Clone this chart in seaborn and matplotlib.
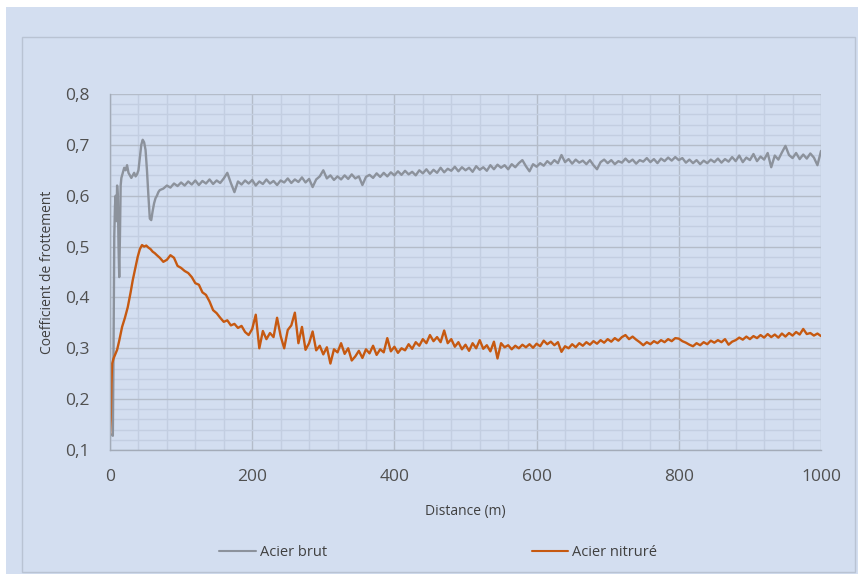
import pandas as pd
import matplotlib
matplotlib.use('Agg')
import matplotlib.pyplot as plt
from matplotlib.patches import Rectangle
from matplotlib.ticker import MultipleLocator, FuncFormatter
import seaborn as sns

# ---- data ----
# Acier brut (grey): early part with fine steps, then every 5 m
brut_dist = [0, 2, 4, 5, 6, 7, 8, 9, 10, 11, 12, 13, 14, 15, 16, 17, 18, 20, 22, 24, 26, 28, 30,
             32, 34, 36, 38, 40, 42, 44, 46, 48, 50, 52, 54, 56, 58, 60, 62, 64, 66, 68, 70] + list(range(75, 1001, 5))
brut_coef = [0.13, 0.13, 0.128, 0.30, 0.52, 0.58, 0.60, 0.55, 0.62, 0.60, 0.50, 0.44, 0.52, 0.62, 0.635,
             0.64, 0.645, 0.655, 0.65, 0.66, 0.645, 0.64, 0.635, 0.64, 0.645, 0.638, 0.642, 0.65, 0.675,
             0.70, 0.71, 0.705, 0.69, 0.65, 0.60, 0.555, 0.552, 0.57, 0.585, 0.595, 0.60, 0.607, 0.611,
             # 75 .. 200
             0.614, 0.62, 0.616, 0.624, 0.619, 0.626, 0.62, 0.628, 0.622, 0.63, 0.621, 0.629, 0.624,
             0.632, 0.623, 0.63, 0.625, 0.634, 0.645, 0.625, 0.607, 0.628, 0.622, 0.63, 0.624, 0.631,
             # 205 .. 330
             0.62, 0.628, 0.623, 0.632, 0.624, 0.629, 0.621, 0.63, 0.626, 0.634, 0.625, 0.632, 0.627,
             0.636, 0.626, 0.633, 0.617, 0.632, 0.638, 0.65, 0.634, 0.64, 0.631, 0.638, 0.632, 0.64,
             # 335 .. 460
             0.633, 0.642, 0.634, 0.638, 0.621, 0.637, 0.641, 0.635, 0.644, 0.637, 0.645, 0.638, 0.646,
             0.64, 0.648, 0.641, 0.649, 0.642, 0.647, 0.64, 0.65, 0.644, 0.652, 0.643, 0.651, 0.645,
             # 465 .. 590
             0.655, 0.646, 0.653, 0.649, 0.657, 0.648, 0.656, 0.65, 0.655, 0.647, 0.658, 0.651, 0.656,
             0.649, 0.66, 0.652, 0.661, 0.655, 0.66, 0.652, 0.662, 0.656, 0.664, 0.67, 0.658, 0.648,
             # 595 .. 720
             0.662, 0.657, 0.664, 0.659, 0.668, 0.662, 0.67, 0.664, 0.68, 0.666, 0.672, 0.663, 0.671,
             0.665, 0.669, 0.662, 0.67, 0.66, 0.652, 0.666, 0.671, 0.664, 0.67, 0.662, 0.668, 0.665,
             # 725 .. 850
             0.673, 0.666, 0.671, 0.663, 0.67, 0.667, 0.674, 0.666, 0.672, 0.664, 0.673, 0.668, 0.675,
             0.669, 0.676, 0.67, 0.674, 0.665, 0.671, 0.664, 0.67, 0.662, 0.669, 0.664, 0.671, 0.666,
             # 855 .. 980
             0.673, 0.665, 0.672, 0.667, 0.676, 0.668, 0.679, 0.666, 0.675, 0.67, 0.682, 0.668, 0.677,
             0.671, 0.684, 0.656, 0.679, 0.671, 0.685, 0.698, 0.68, 0.674, 0.684, 0.672, 0.681, 0.673,
             # 985 .. 1000
             0.683, 0.675, 0.66, 0.688]

# Acier nitrure (orange)
nitr_dist = [0, 1, 2, 3, 5, 8, 10, 13, 17, 21, 25, 29, 32, 36, 39, 42, 45, 48, 51, 54, 57, 60, 63, 66, 70] + list(range(75, 1001, 5))
nitr_coef = [0.13, 0.16, 0.23, 0.27, 0.28, 0.29, 0.297, 0.315, 0.342, 0.36, 0.381, 0.41, 0.434, 0.46,
             0.48, 0.495, 0.503, 0.50, 0.502, 0.498, 0.495, 0.49, 0.487, 0.483, 0.478,
             # 75 .. 200
             0.47, 0.474, 0.483, 0.478, 0.462, 0.458, 0.452, 0.448, 0.44, 0.428, 0.425, 0.41, 0.405,
             0.392, 0.375, 0.369, 0.36, 0.352, 0.355, 0.345, 0.348, 0.34, 0.344, 0.332, 0.326, 0.338,
             # 205 .. 330
             0.366, 0.30, 0.334, 0.318, 0.33, 0.322, 0.36, 0.324, 0.30, 0.336, 0.345, 0.37, 0.31,
             0.342, 0.297, 0.31, 0.333, 0.296, 0.305, 0.288, 0.302, 0.27, 0.298, 0.292, 0.31, 0.289,
             # 335 .. 460
             0.30, 0.276, 0.284, 0.295, 0.281, 0.298, 0.29, 0.305, 0.287, 0.298, 0.292, 0.32, 0.294,
             0.303, 0.291, 0.30, 0.296, 0.308, 0.299, 0.312, 0.305, 0.318, 0.31, 0.326, 0.314, 0.322,
             # 465 .. 590
             0.312, 0.335, 0.31, 0.318, 0.303, 0.312, 0.298, 0.307, 0.295, 0.31, 0.30, 0.316, 0.299,
             0.306, 0.294, 0.313, 0.28, 0.31, 0.302, 0.306, 0.298, 0.305, 0.30, 0.307, 0.302, 0.308,
             # 595 .. 720
             0.301, 0.309, 0.304, 0.315, 0.308, 0.313, 0.306, 0.312, 0.293, 0.304, 0.30, 0.308, 0.302,
             0.31, 0.305, 0.312, 0.307, 0.314, 0.309, 0.316, 0.311, 0.318, 0.313, 0.32, 0.315, 0.322,
             # 725 .. 850
             0.326, 0.318, 0.323, 0.317, 0.312, 0.306, 0.312, 0.308, 0.314, 0.31, 0.316, 0.312, 0.318,
             0.314, 0.32, 0.319, 0.314, 0.311, 0.307, 0.304, 0.31, 0.306, 0.312, 0.308, 0.315, 0.311,
             # 855 .. 980
             0.316, 0.312, 0.318, 0.307, 0.313, 0.316, 0.321, 0.317, 0.323, 0.318, 0.324, 0.32, 0.326,
             0.321, 0.328, 0.322, 0.327, 0.321, 0.329, 0.323, 0.33, 0.325, 0.332, 0.327, 0.338, 0.328,
             # 985 .. 1000
             0.33, 0.325, 0.329, 0.324]

series_names = ['Acier brut', 'Acier nitruré']
series_colors = ['#8C929C', '#C65911']

df = pd.concat([
    pd.DataFrame({'Distance': brut_dist, 'Coef': brut_coef, 'Serie': series_names[0]}),
    pd.DataFrame({'Distance': nitr_dist, 'Coef': nitr_coef, 'Serie': series_names[1]}),
], ignore_index=True)

# ---- style ----
sns.set_style('white')
plt.rcParams['font.family'] = ['Open Sans', 'DejaVu Sans']

bg = '#D3DEF0'
fig = plt.figure(figsize=(8.58, 5.74), dpi=100, facecolor='white')
W, H = 858, 574
# chart area background + inner frame
fig.patches.append(Rectangle((6 / W, 0), 1 - 6 / W, 1 - 7 / H, transform=fig.transFigure,
                             facecolor=bg, edgecolor='none', zorder=-10))
fig.patches.append(Rectangle((22 / W, 2 / H), (855 - 22) / W, (572 - 37) / H, transform=fig.transFigure,
                             facecolor='none', edgecolor='#B9C3D3', lw=1, zorder=-9))

ax = fig.add_axes([110 / W, (H - 450) / H, 711 / W, 356 / H])
ax.set_facecolor('none')

sns.lineplot(data=df, x='Distance', y='Coef', hue='Serie', palette=dict(zip(series_names, series_colors)),
             estimator=None, sort=False, linewidth=1.7, ax=ax, legend=False)

ax.set_xlim(0, 1000)
ax.set_ylim(0.1, 0.8)
ax.xaxis.set_major_locator(MultipleLocator(200))
ax.xaxis.set_minor_locator(MultipleLocator(40))
ax.yaxis.set_major_locator(MultipleLocator(0.1))
ax.yaxis.set_minor_locator(MultipleLocator(0.02))
ax.yaxis.set_major_formatter(FuncFormatter(lambda v, p: f'{v:.1f}'.replace('.', ',')))

ax.grid(which='major', color='#B4BCC9', lw=1.0)
ax.grid(which='minor', color='#C3CEE1', lw=1.0)
ax.set_axisbelow(True)

for s in ['top', 'right']:
    ax.spines[s].set_visible(False)
for s in ['left', 'bottom']:
    ax.spines[s].set_color('#A3ABB8')
    ax.spines[s].set_linewidth(1.0)

ax.tick_params(which='both', direction='out', length=5, width=1, color='#A3ABB8')
ax.tick_params(axis='y', which='major', labelsize=12.5, labelcolor='#505050', pad=10)
ax.tick_params(axis='x', which='major', labelsize=12.5, labelcolor='#505050', pad=9)

ax.set_xlabel('Distance (m)', fontsize=10, color='#404040', labelpad=13)
ax.set_ylabel('Coefficient de frottement', fontsize=10, color='#404040', labelpad=7)

# legend at the bottom
handles = [plt.Line2D([], [], color=c, lw=1.5) for c in series_colors]
fig.legend(handles, series_names, loc='center', bbox_to_anchor=(0.511, 0.038), ncol=2, frameon=False,
           fontsize=10.5, handlelength=2.5, handletextpad=0.3, columnspacing=14.0, labelcolor='#404040')

plt.savefig('out.png', dpi=100, facecolor=fig.get_facecolor())
